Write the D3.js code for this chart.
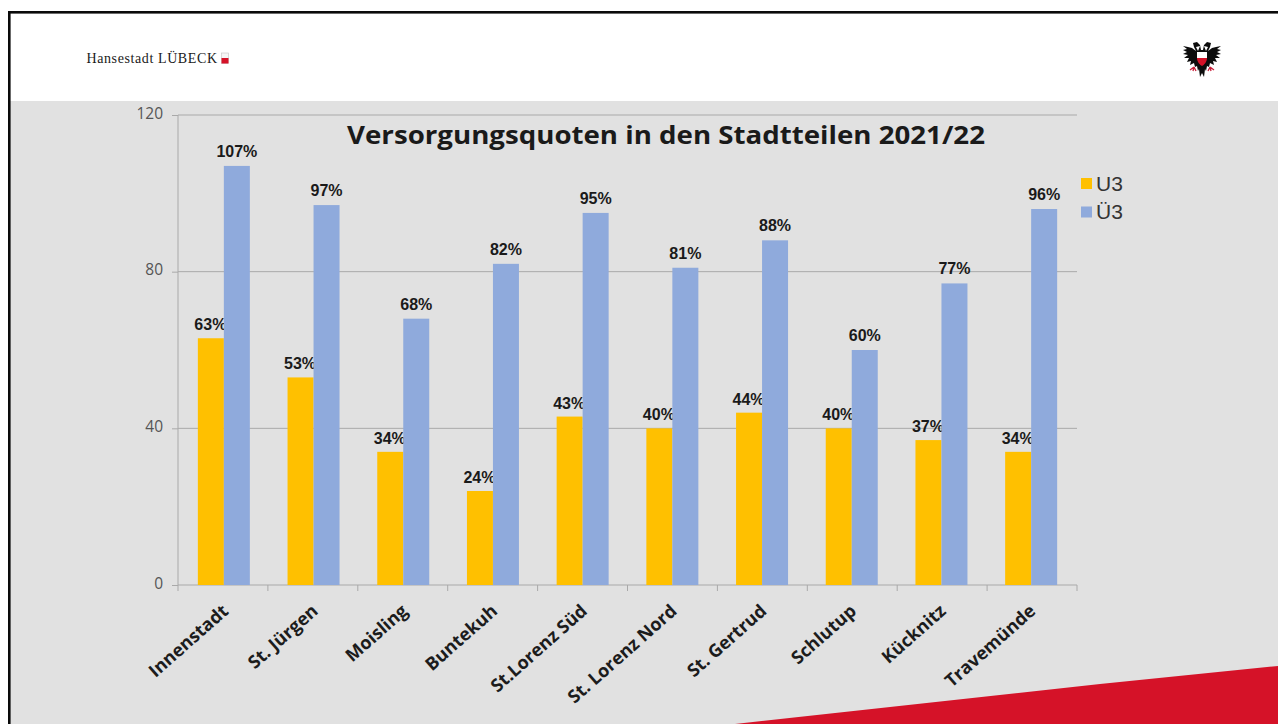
<!DOCTYPE html>
<html><head><meta charset="utf-8">
<script src="https://cdn.jsdelivr.net/npm/d3@7"></script>
<style>html,body{margin:0;padding:0;background:#fff;overflow:hidden}svg{display:block}</style>
</head><body><div id="c"></div>
<script>
const categories = ["Innenstadt","St. Jürgen","Moisling","Buntekuh","St.Lorenz Süd","St. Lorenz Nord","St. Gertrud","Schlutup","Kücknitz","Travemünde"];
const u3Values = [63,53,34,24,43,40,44,40,37,34];
const ue3Values = [107,97,68,82,95,81,88,60,77,96];
const seriesNames = ["U3","Ü3"];
const yTicks = [0,40,80,120];
const titleText = "Versorgungsquoten in den Stadtteilen 2021/22";
const brandText = "Hansestadt LÜBECK";

const W = 1278, H = 724;
const colors = ["#ffc000","#8faadc"];
const svg = d3.select("#c").append("svg").attr("width",W).attr("height",H);

// page furniture
svg.append("rect").attr("width",W).attr("height",H).attr("fill","#fff");
svg.append("rect").attr("x",10).attr("y",101).attr("width",W-10).attr("height",H-101).attr("fill","#e1e1e1");
svg.append("rect").attr("x",8).attr("y",11).attr("width",W-8).attr("height",2.6).attr("fill","#0a0a0a");
svg.append("rect").attr("x",8).attr("y",11).attr("width",2.6).attr("height",H-11).attr("fill","#0a0a0a");
svg.append("polygon").attr("points",[[735,724],[1100,684],[1278,666],[1278,724]].join(" ")).attr("fill","#d51228");

// brand
svg.append("text").attr("x",86.5).attr("y",63).attr("font-family","Liberation Serif").attr("font-size",14)
  .attr("fill","#1a1a1a").attr("textLength",130.5).attr("lengthAdjust","spacing").text(brandText);
svg.append("rect").attr("x",221.5).attr("y",53).attr("width",7).attr("height",10.5).attr("fill","#f6f6f6").attr("stroke","#c4c4c4").attr("stroke-width",.6);
svg.append("rect").attr("x",221.5).attr("y",58).attr("width",7).attr("height",5.5).attr("fill","#d51228");

// eagle crest (simplified)
const e = svg.append("g").attr("transform","translate(1202,60)");
e.append("path").attr("fill","#0c0c0c").attr("d","M-1,-10 L-2,-15 L-5,-18 L-9,-17 L-8,-13 L-6,-9 L-10,-12 L-14,-13 L-19,-14 L-15,-11 L-19,-10 L-15,-8 L-19,-6 L-14,-5 L-18,-2 L-13,-2 L-15,2 L-11,1 L-12,5 L-8,3 L-7,7 L-5,6 L-4,11 L-3,9 L-2,17 L0,13 L2,17 L3,9 L4,11 L5,6 L7,7 L8,3 L12,5 L11,1 L15,2 L13,-2 L18,-2 L14,-5 L19,-6 L15,-8 L19,-10 L15,-11 L19,-14 L14,-13 L10,-12 L6,-9 L8,-13 L9,-17 L5,-18 L2,-15 L1,-10 Z");
e.append("path").attr("fill","#fff").attr("d","M-4,-9 L-6,-13 L-2,-14 Z M4,-9 L6,-13 L2,-14 Z");
e.append("path").attr("fill","#fff").attr("d","M-5,-8 H5 V-2 H-5 Z");
e.append("path").attr("fill","#d51228").attr("d","M-5,-2 H5 C5,2 2,5 0,6 C-2,5 -5,2 -5,-2 Z");
e.append("path").attr("fill","none").attr("stroke","#c8203a").attr("stroke-width",1.3).attr("d","M-8,7 L-12,10 M-8,7 L-9,11 M-8,7 L-6,11 M8,7 L12,10 M8,7 L9,11 M8,7 L6,11");

// scales
const x = d3.scaleBand().domain(categories).range([178.5,1075.5]);
const tickX = d3.scaleLinear().domain([0,categories.length]).range([178,1077]);
const y = d3.scaleLinear().domain([0,120]).range([585,115]);
const barW = 26;

// gridlines
svg.append("g").selectAll("line").data(yTicks.filter(d=>d>0)).join("line")
  .attr("x1",178).attr("x2",1077).attr("y1",d=>y(d)).attr("y2",d=>y(d))
  .attr("stroke","#a9a9a9").attr("stroke-width",1);

// axes
const yAxis = svg.append("g").attr("transform","translate(178,0)")
  .call(d3.axisLeft(y).tickValues(yTicks).tickSize(6).tickPadding(9));
yAxis.selectAll("text").attr("font-family","Open Sans").attr("font-size",15.5).attr("fill","#555").attr("dy","0.2em");
yAxis.selectAll("line,path").attr("stroke","#a9a9a9");
yAxis.select("path").attr("d","M0,115V585");

const xAxis = svg.append("g").attr("transform","translate(0,585)")
  .call(d3.axisBottom(x).tickSize(0).tickFormat(""));
xAxis.select("path").attr("stroke","#a9a9a9").attr("d","M178,0H1077");
xAxis.selectAll(".tick").remove();
svg.append("g").selectAll("line").data(d3.range(categories.length+1)).join("line")
  .attr("x1",i=>tickX(i)).attr("x2",i=>tickX(i)).attr("y1",585).attr("y2",591).attr("stroke","#a9a9a9");

// bars & labels
[u3Values,ue3Values].forEach((vals,s)=>{
  const bx = i => x(categories[i]) + x.step()/2 + (s-1)*barW + .5;
  const g = svg.append("g");
  g.selectAll("rect").data(vals).join("rect")
    .attr("x",(d,i)=>bx(i)).attr("y",d=>y(d)).attr("width",barW).attr("height",d=>y(0)-y(d)).attr("fill",colors[s]);
  g.selectAll("text").data(vals).join("text")
    .attr("x",(d,i)=>bx(i)+barW/2 + (s===0?-.5:0)).attr("y",d=>y(d)-(s===0?8:9))
    .attr("text-anchor","middle").attr("font-family","Liberation Sans").attr("font-weight","bold").attr("font-size",16)
    .attr("fill","#1a1a1a").text(d=>d+"%");
});

// category labels
svg.append("g").selectAll("text").data(categories).join("text")
  .attr("text-anchor","end").attr("font-family","Open Sans").attr("font-weight","bold").attr("font-size",18).attr("fill","#1c1c1c")
  .attr("transform",d=>`translate(${x(d)+x.step()/2+2},${608}) rotate(-41.5)`)
  .attr("dy","0.35em").text(d=>d);

// title
svg.append("text").attr("x",666).attr("y",144).attr("text-anchor","middle").attr("font-family","Open Sans").attr("font-weight","bold")
  .attr("font-size",25).attr("fill","#1a1a1a").attr("textLength",638).attr("lengthAdjust","spacingAndGlyphs").text(titleText);

// legend
const lg = svg.append("g").selectAll("g").data(seriesNames).join("g").attr("transform",(d,i)=>`translate(1081,${178+i*28.5})`);
lg.append("rect").attr("width",11).attr("height",11).attr("fill",(d,i)=>colors[i]);
lg.append("text").attr("x",15).attr("y",12.5).attr("font-family","Liberation Sans").attr("font-size",21).attr("fill","#333").text(d=>d);
</script></body></html>
